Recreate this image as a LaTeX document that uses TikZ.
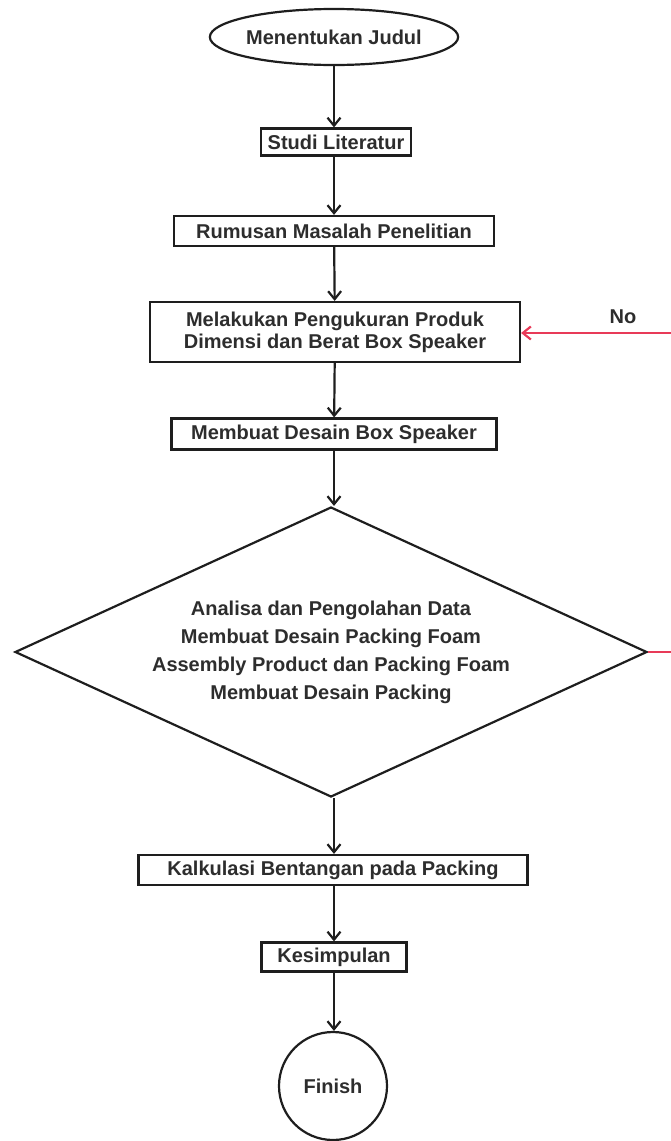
\documentclass[tikz,border=0pt]{standalone}
\usepackage{fontspec}
\setmainfont{Liberation Sans}
\usetikzlibrary{shapes.geometric,arrows.meta}
\definecolor{garis}{RGB}{30,30,30}
\definecolor{teks}{RGB}{45,45,45}
\definecolor{merah}{RGB}{232,58,88}

\begin{document}
\begin{tikzpicture}[x=1pt,y=-1pt, line width=2.2pt,
		>={Straight Barb[length=8pt,width=13pt]},
		kotak/.style={draw=garis, rectangle, inner sep=0pt, text=teks, font=\bfseries\fontsize{20}{22}\selectfont},
		panah/.style={->, draw=garis}]
		\useasboundingbox (0,0) rectangle (671,1141);
		\node[draw=garis, ellipse, minimum width=216pt, minimum height=56pt, inner sep=0pt, text=teks, font=\bfseries\fontsize{20}{22}\selectfont] (judul) at (334,37) {Menentukan Judul};
		\node[kotak, minimum width=150pt, minimum height=27pt] (studi) at (336,142) {Studi Literatur};
		\node[kotak, minimum width=320pt, minimum height=30pt] (rumusan) at (334,231) {Rumusan Masalah Penelitian};
		\node[kotak, minimum width=370pt, minimum height=60pt, align=center] (ukur) at (335,332) {Melakukan Pengukuran Produk\\Dimensi dan Berat Box Speaker};
		\node[kotak, minimum width=325pt, minimum height=31pt] (desain) at (334,434) {Membuat Desain Box Speaker};
		\node[draw=garis, diamond, aspect=2.18, minimum width=632pt, minimum height=290pt, inner sep=0pt, align=center, text=teks, font=\bfseries\fontsize{20}{28}\selectfont] (analisa) at (331,652) {Analisa dan Pengolahan Data\\Membuat Desain Packing Foam\\Assembly Product dan Packing Foam\\Membuat Desain Packing};
		\node[kotak, minimum width=389pt, minimum height=30pt] (kalkulasi) at (333,870) {Kalkulasi Bentangan pada Packing};
		\node[kotak, minimum width=145pt, minimum height=29pt] (kesimpulan) at (334,957) {Kesimpulan};
		\node[draw=garis, circle, minimum size=108pt, inner sep=0pt, text=teks, font=\bfseries\fontsize{20}{22}\selectfont] (finish) at (333,1086) {Finish};
		\node[text=teks, font=\bfseries\fontsize{20}{22}\selectfont] (no) at (623,317) {No};
		\coordinate (belok1) at (700,652);
		\coordinate (belok2) at (700,333);
		\draw[panah] (judul) -- (studi.north -| judul);
		\draw[panah] (studi.south -| judul) -- (rumusan.north -| judul);
		\draw[panah] (rumusan) -- (ukur);
		\draw[panah] (ukur) -- (desain);
		\draw[panah] (desain) -- (analisa.north -| desain);
		\draw[panah] (analisa.south -| desain) -- (kalkulasi.north -| desain);
		\draw[panah] (kalkulasi.south -| desain) -- (kesimpulan);
		\draw[panah] (kesimpulan) -- (finish.north -| kesimpulan);
		\draw[->, draw=merah] (analisa.east) -- (belok1) -- (belok2) -- (ukur.east |- belok2);
\end{tikzpicture}
\end{document}
